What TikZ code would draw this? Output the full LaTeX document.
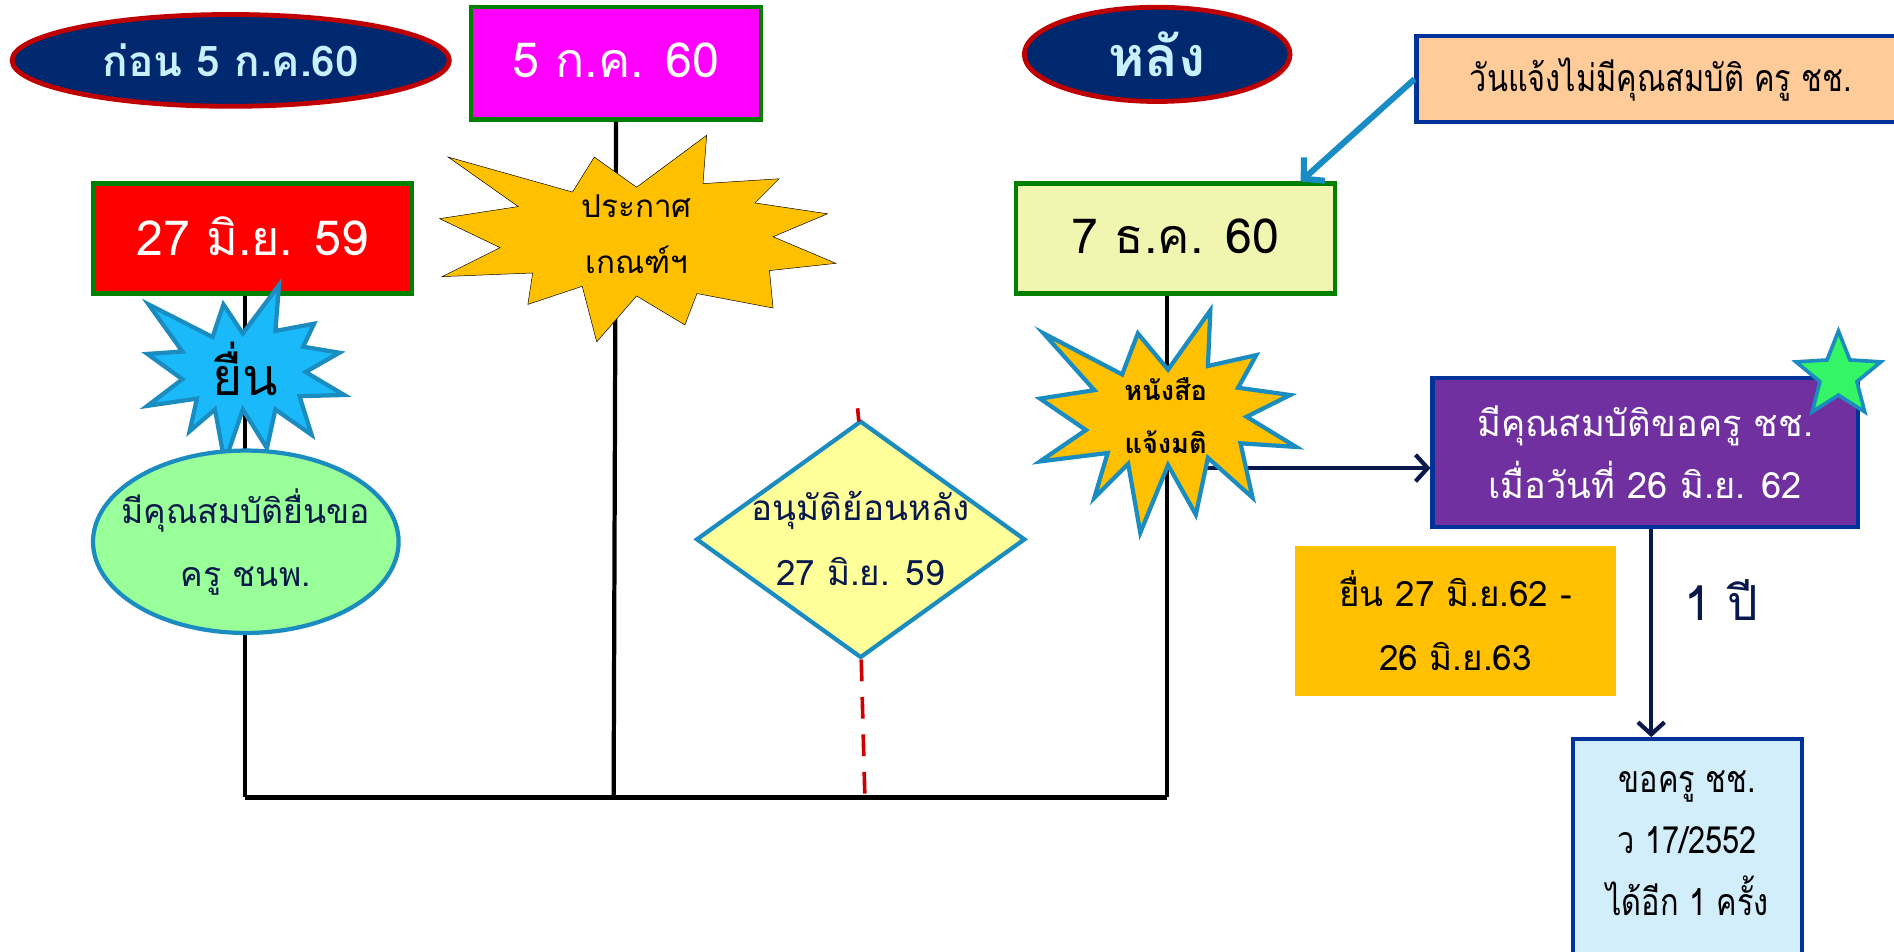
\documentclass[tikz,border=0pt]{standalone}
\usepackage{fontspec}
\setmainfont[Script=Thai]{Loma}
\newfontfamily\thinfont[Script=Thai, FakeStretch=0.82]{Loma}
\usetikzlibrary{shapes.geometric, arrows.meta}
\definecolor{navyfill}{RGB}{0,40,110}
\definecolor{darkred}{RGB}{192,0,0}
\definecolor{boxgreen}{RGB}{0,128,0}
\definecolor{magentafill}{RGB}{255,0,255}
\definecolor{gold}{RGB}{255,192,0}
\definecolor{skyblue}{RGB}{26,185,250}
\definecolor{cyanborder}{RGB}{26,140,191}
\definecolor{lightgreen}{RGB}{153,255,153}
\definecolor{paleyellow}{RGB}{255,255,153}
\definecolor{lightyellow}{RGB}{240,245,176}
\definecolor{peach}{RGB}{255,204,153}
\definecolor{blueborder}{RGB}{0,51,153}
\definecolor{purplefill}{RGB}{112,48,160}
\definecolor{brightgreen}{RGB}{51,245,102}
\definecolor{lightblue}{RGB}{209,238,250}
\definecolor{textnavy}{RGB}{10,25,75}
\definecolor{arrowblue}{RGB}{26,140,196}
\definecolor{labelcyan}{RGB}{200,240,255}
\definecolor{dashred}{RGB}{204,0,0}
\newcommand{\fsz}[2]{\fontsize{#1}{#2}\selectfont}
\tikzset{
  datebox/.style={rectangle, draw=boxgreen, line width=3.5pt, inner sep=0pt, align=center},
  headell/.style={ellipse, fill=navyfill, draw=darkred, line width=4pt, inner sep=0pt},
  bluebox/.style={rectangle, draw=blueborder, line width=3.5pt, inner sep=0pt, align=center},
  burst/.style={fill=gold, line join=miter},
  burstb/.style={draw=cyanborder, line width=3.5pt, line join=miter},
  tline/.style={black, line width=3.5pt},
  ttext/.style={align=center, inner sep=0pt},
  navyarr/.style={draw=textnavy, line width=3.5pt, -{Straight Barb[length=10pt,width=22pt,line width=3.5pt]}},
}
\begin{document}
\begin{tikzpicture}[x=1pt,y=-1pt]
\path[use as bounding box] (0,0) rectangle (1568,788);

% bottom coordinates
\coordinate (b1) at (203,660);
\coordinate (b2) at (508,660);
\coordinate (bd) at (716,660);
\coordinate (b3) at (966,660);

% date boxes
\node[datebox, fill=magentafill, minimum width=240pt, minimum height=93pt] (d5) at (510,52.5) {};
\node[ttext, text=white, font=\fsz{40}{48}] at ([yshift=3pt]d5.center) {5 ก.ค. 60};
\node[datebox, fill=red, minimum width=264pt, minimum height=91pt] (d27) at (209,197.5) {};
\node[ttext, text=white, font=\fsz{40}{48}] at ([yshift=2pt]d27.center) {27 มิ.ย. 59};
\node[datebox, fill=lightyellow, minimum width=264pt, minimum height=91pt] (d7) at (973,197.5) {};
\node[ttext, text=black, font=\fsz{40}{48}] at ([yshift=2pt]d7.center) {7 ธ.ค. 60};

% timeline lines (behind the starbursts)
\draw[tline] ([xshift=-6pt]d27.south) -- (b1);
\draw[tline] (d5.south) -- (b2);
\draw[tline] ([xshift=-7pt]d7.south) -- (b3);
\draw[black, line width=4pt] (b1) -- (b3);

% purple box and arrow into it (arrow starts behind the starburst)
\node[bluebox, fill=purplefill, minimum width=352pt, minimum height=123pt] (pur) at (1362,374.5) {};
\node[ttext, text=white, font=\fsz{30}{51}] at (pur.center) {มีคุณสมบัติขอครู ชช.\\เมื่อวันที่ 26 มิ.ย. 62};
\node[ttext, text=black, font=\bfseries\fsz{22.5}{44}] (hs) at (965,344) {หนังสือ\\แจ้งมติ};
\coordinate (pa) at ([yshift=-13pt]pur.west);
\draw[navyarr] (pa -| hs.east) -- (pa);

% starbursts
\draw[burst] (371,130) -- (474,159) -- (492,130) -- (527,155) -- (585,112) -- (582,152) -- (645,148) -- (625,168) -- (685,177) -- (640,196) -- (692,218) -- (637,224) -- (640,255) -- (577,243) -- (567,269) -- (527,245) -- (494,283) -- (482,237) -- (437,252) -- (441,226) -- (366,229) -- (414,205) -- (364,181) -- (429,171) -- cycle;
\draw[burstb, fill=skyblue] (123,252) -- (176,279) -- (185,252) -- (201,276) -- (231,236) -- (228,274) -- (260,268) -- (251,287) -- (281,292) -- (253,308) -- (285,327) -- (248,328) -- (258,360) -- (228,339) -- (221,371) -- (201,339) -- (186,383) -- (178,339) -- (157,357) -- (163,330) -- (122,336) -- (151,314) -- (122,293) -- (151,291) -- cycle;
\draw[burstb, fill=gold] (864,276) -- (929,310) -- (942,276) -- (967,306) -- (1002,257) -- (1000,303) -- (1040,294) -- (1025,321) -- (1068,327) -- (1032,345) -- (1073,370) -- (1027,367) -- (1037,412) -- (1000,379) -- (990,426) -- (967,385) -- (944,441) -- (934,384) -- (906,412) -- (917,375) -- (861,382) -- (899,356) -- (861,330) -- (906,323) -- cycle;
\node[ttext, text=black, font=\bfseries\fsz{22.5}{44}] at (hs) {หนังสือ\\แจ้งมติ};

% heading ellipses
\node[headell, minimum width=362pt, minimum height=76pt] (before) at (191,50) {};
\node[ttext, text=labelcyan, font=\bfseries\fsz{35}{40}] at (before.center) {ก่อน 5 ก.ค.60};
\node[headell, minimum width=220pt, minimum height=78pt] (after) at (958,45) {};
\node[ttext, text=labelcyan, font=\bfseries\fsz{46}{50}] at (after.center) {หลัง};

% green ellipse
\node[ellipse, fill=lightgreen, draw=cyanborder, line width=3.5pt, minimum width=253pt, minimum height=151pt, inner sep=0pt] (qual) at (203.5,448.5) {};
\node[ttext, text=textnavy, font=\fsz{28}{52}] at (qual.center) {มีคุณสมบัติยื่นขอ\\ครู ชนพ.};

% diamond
\draw[fill=paleyellow, draw=cyanborder, line width=3.5pt] (712.5,349) -- (848,446.5) -- (712.5,544) -- (577,446.5) -- cycle;
\node[ttext, text=textnavy, font=\fsz{29}{54}] (appr) at (712.5,446) {อนุมัติย้อนหลัง\\27 มิ.ย. 59};
\coordinate (diaB) at (713,546);
\coordinate (diaT) at (711,349);
\draw[dashred, line width=3pt, dash pattern=on 18pt off 13pt] (diaB) -- (bd);
\draw[dashred, line width=3pt] (diaT) -- ++(-1,-11);

% right side
\node[bluebox, fill=peach, minimum width=409pt, minimum height=71pt, anchor=west] (note) at (1171,65.5) {};
\node[ttext, text=black, font=\thinfont\fsz{31}{36}] at (1375,65.5) {วันแจ้งไม่มีคุณสมบัติ ครู ชช.};
\node[star, star points=5, star point ratio=2.3, minimum size=74pt, inner sep=0pt, fill=brightgreen, draw=cyanborder, line width=3pt] (starm) at (1522,311) {};
\node[rectangle, fill=gold, minimum width=266pt, minimum height=124pt, inner sep=0pt] (win) at (1205,514) {};
\node[ttext, text=black, font=\fsz{29}{53}] at (win.center) {ยื่น 27 มิ.ย.62 -\\26 มิ.ย.63};
\node[bluebox, fill=lightblue, minimum width=190pt, minimum height=182pt] (lb) at (1397,703) {};
\node[ttext, text=black, font=\thinfont\fsz{31}{51}] at ([yshift=5pt]lb.center) {ขอครู ชช.\\ว 17/2552\\ได้อีก 1 ครั้ง};
\node[ttext, text=textnavy, font=\fsz{40}{48}] (yr) at (1425,497) {1 ปี};

% starburst texts
\node[ttext, text=black, font=\fsz{26}{47}] (ann) at (527,194) {ประกาศ\\เกณฑ์ฯ};
\node[ttext, text=black, font=\fsz{43}{50}] (sub) at (203,305) {ยื่น};

% connectors
\draw[draw=arrowblue, line width=5pt, -{Straight Barb[length=12pt,width=26pt,line width=5pt]}] (note.west) -- ([xshift=-30pt]d7.north east);
\draw[navyarr] ([xshift=5pt]pur.south) -- ([xshift=5pt]pur.south |- lb.north);
\end{tikzpicture}
\end{document}
